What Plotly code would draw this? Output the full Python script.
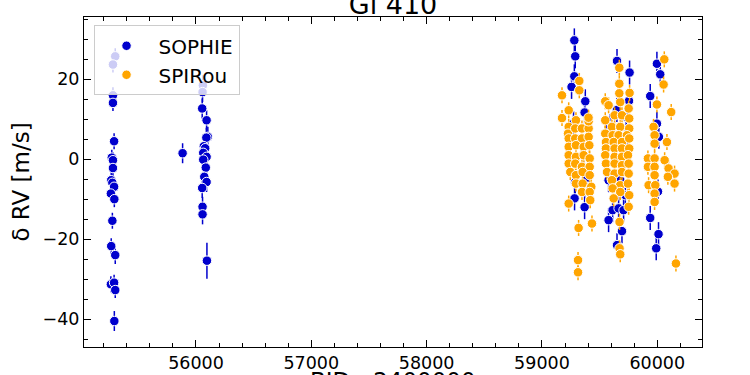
import plotly.graph_objects as go

# ---------------- data ----------------
sophie_t = [
    55300, 55280, 55280, 55280, 55290, 55270, 55280, 55280, 55265, 55275,
    55290, 55262, 55292, 55275, 55265, 55300, 55262, 55290, 55300, 55292,
    55884,
    56060, 56057, 56054, 56092, 56103, 56090, 56068, 56080, 56063, 56092,
    56063, 56085, 56072, 56092, 56054, 56057, 56057, 56095,
    59281, 59289, 59281, 59257, 59376, 59370, 59274, 59360, 59289, 59390,
    59370, 59283,
    59651, 59760, 59755, 59650, 59731, 59590, 59723, 59578, 59679, 59723,
    59613, 59665, 59708, 59578, 59694, 59651,
    59997, 60026, 59939, 59997, 60014, 60006, 59939, 60011, 59991,
]
sophie_rv = [
    25.75, 23.7, 16.0, 14.1, 4.5, 0.4, -0.25, -2.2, -5.25, -5.9,
    -6.9, -8.6, -10.0, -15.4, -21.75, -24.0, -31.3, -30.9, -32.75, -40.5,
    1.5,
    18.5, 16.8, 12.7, 9.75, 5.6, 5.4, 3.25, 2.75, 1.6, 0.6,
    -0.1, -2.1, -4.4, -5.7, -7.2, -11.9, -13.8, -25.4,
    29.75, 25.75, 20.75, 18.1, 14.5, 11.7, 9.0, 1.0, -5.8, -4.6,
    -12.0, -9.8,
    24.6, 21.7, 14.6, 12.3, 10.6, 8.3, 4.3, -5.25, -5.25, -9.0,
    -12.75, -12.3, -12.75, -15.25, -18.0, -21.5,
    23.9, 21.25, 15.8, 8.9, 5.6, -8.1, -14.7, -18.75, -22.3,
]
sophie_err = [
    2.0, 2.0, 2.0, 2.0, 2.0, 2.0, 2.0, 2.0, 2.0, 2.0,
    2.0, 2.0, 2.0, 2.0, 2.0, 2.2, 2.0, 2.0, 2.0, 2.5,
    2.5,
    2.5, 2.5, 2.5, 2.5, 2.5, 2.5, 2.5, 2.5, 2.5, 2.5,
    2.5, 2.5, 2.5, 2.5, 2.5, 2.5, 2.5, 4.5,
    3.0, 3.0, 3.0, 3.0, 3.0, 3.0, 3.0, 3.0, 3.0, 3.0,
    3.0, 3.0,
    3.0, 3.0, 3.0, 3.0, 3.0, 3.0, 3.0, 3.0, 3.0, 3.0,
    3.0, 3.0, 3.0, 3.0, 3.0, 3.0,
    3.0, 3.0, 3.0, 3.0, 3.0, 3.0, 3.0, 3.0, 3.0,
]

spirou_t = [
    # group 1
    59174, 59232, 59295, 59232, 59226, 59289, 59347, 59405, 59405, 59232,
    59289, 59347, 59405, 59232, 59295, 59362, 59411, 59232, 59295, 59362,
    59414, 59232, 59289, 59347, 59414, 59246, 59295, 59353, 59414, 59295,
    59353, 59428, 59347, 59414, 59232, 59419,
    59174, 59324, 59324, 59404, 59318, 59434, 59313, 59313,
    # group 2
    59549, 59578, 59679, 59752, 59630, 59694, 59757, 59549, 59607, 59679,
    59757, 59549, 59613, 59665, 59737, 59555, 59622, 59694, 59757, 59555,
    59630, 59694, 59757, 59549, 59630, 59694, 59746, 59555, 59630, 59694,
    59752, 59564, 59630, 59694, 59752, 59607, 59679, 59746, 59613, 59679,
    59757, 59622, 59752,
    59671, 59671, 59671, 59760, 59673, 59673, 59679,
    # group 3
    59997, 60121, 59968, 59977, 59977, 60084, 59919, 59977, 60064, 59919,
    59977, 60098, 60150, 59977, 60092, 59925, 59983, 60150, 59977, 59977,
    60061, 60055, 60162,
]
spirou_rv = [
    # group 1
    10.3, 12.25, 9.75, 8.1, 6.4, 7.7, 7.7, 7.7, 9.5, 5.2,
    5.2, 5.2, 5.6, 3.1, 3.5, 3.1, 3.5, 1.0, 0.6, 1.0,
    0.2, -1.1, -1.1, -1.9, -1.9, -3.2, -4.0, -3.2, -4.0, -6.1,
    -6.1, -6.9, -8.2, -8.2, -11.1, -10.25,
    16.0, 19.6, 17.25, 10.4, -17.2, -16.1, -25.25, -28.3,
    # group 2
    14.5, 13.5, 14.3, 12.7, 11.0, 11.0, 10.2, 9.75, 8.1, 8.1,
    7.7, 6.4, 6.0, 6.0, 6.0, 4.3, 4.3, 4.3, 5.2, 2.7,
    2.7, 2.7, 2.7, 1.0, 0.6, 0.6, 1.0, -1.1, -1.1, -1.5,
    -1.1, -3.2, -3.6, -3.2, -3.6, -5.25, -6.5, -6.1, -7.3, -8.2,
    -9.0, -9.8, -11.9,
    22.9, 18.9, 16.5, 16.6, -15.7, -22.3, -23.8,
    # group 3
    13.7, 11.8, 8.1, 6.0, 3.9, 4.3, 0.2, 0.2, -0.25, -1.9,
    -1.9, -2.3, -3.6, -4.0, -4.4, -6.5, -6.5, -6.1, -8.6, -10.7,
    25.0, 18.7, -26.1,
]
spirou_err = [2.0] * len(spirou_t)

x_tick_vals = [56000, 57000, 58000, 59000, 60000]
x_tick_text = ["56000", "57000", "58000", "59000", "60000"]
y_tick_vals = [-40, -20, 0, 20]
y_tick_text = ["\u221240", "\u221220", "0", "20"]

SOPHIE_COLOR = "#0000CD"
SPIROU_COLOR = "#FFA500"

fig = go.Figure()
fig.add_trace(go.Scatter(
    x=sophie_t, y=sophie_rv, mode="markers", name="SOPHIE",
    marker=dict(color=SOPHIE_COLOR, size=9.5, line=dict(color="white", width=1)),
    error_y=dict(type="data", array=sophie_err, color=SOPHIE_COLOR, thickness=1.5, width=0),
))
fig.add_trace(go.Scatter(
    x=spirou_t, y=spirou_rv, mode="markers", name="SPIRou",
    marker=dict(color=SPIROU_COLOR, size=9.5, line=dict(color="white", width=1)),
    error_y=dict(type="data", array=spirou_err, color=SPIROU_COLOR, thickness=1.5, width=0),
))

FONT = "DejaVu Sans"
axis_common = dict(
    showline=True, linecolor="black", linewidth=1, mirror="allticks",
    ticks="inside", ticklen=7, tickwidth=1, tickcolor="black",
    showgrid=False, zeroline=False, automargin=False,
    tickfont=dict(family=FONT, size=17.5, color="black"),
)

fig.update_layout(
    width=750, height=375,
    margin=dict(l=84, r=48, t=17, b=28),
    paper_bgcolor="white", plot_bgcolor="white",
    title=dict(text="Gl 410", x=0.524, xanchor="center", y=0.962, yanchor="bottom",
               yref="container", font=dict(family=FONT, size=27, color="black")),
    showlegend=True,
    legend=dict(x=0.0154, y=0.975, xanchor="left", yanchor="top",
                bgcolor="rgba(255,255,255,0.8)", bordercolor="#cccccc", borderwidth=1,
                font=dict(family=FONT, size=20, color="black"), itemwidth=54),
    xaxis=dict(range=[55029, 60388], tickvals=x_tick_vals, ticktext=x_tick_text,
               minor=dict(dtick=200, ticks="inside", ticklen=4, tickcolor="black"),
               **axis_common),
    yaxis=dict(range=[-47.0, 35.6], tickvals=y_tick_vals, ticktext=y_tick_text,
               minor=dict(dtick=5, ticks="inside", ticklen=4, tickcolor="black"),
               title=dict(text="\u03b4 RV [m/s]", font=dict(family=FONT, size=23, color="black"), standoff=6),
               **axis_common),
    annotations=[dict(text="BJD - 2400000", xref="paper", yref="paper", x=0.5, y=-0.058,
                      xanchor="center", yanchor="top", showarrow=False,
                      font=dict(family=FONT, size=23, color="black"))],
)

fig.write_html("out.html")
